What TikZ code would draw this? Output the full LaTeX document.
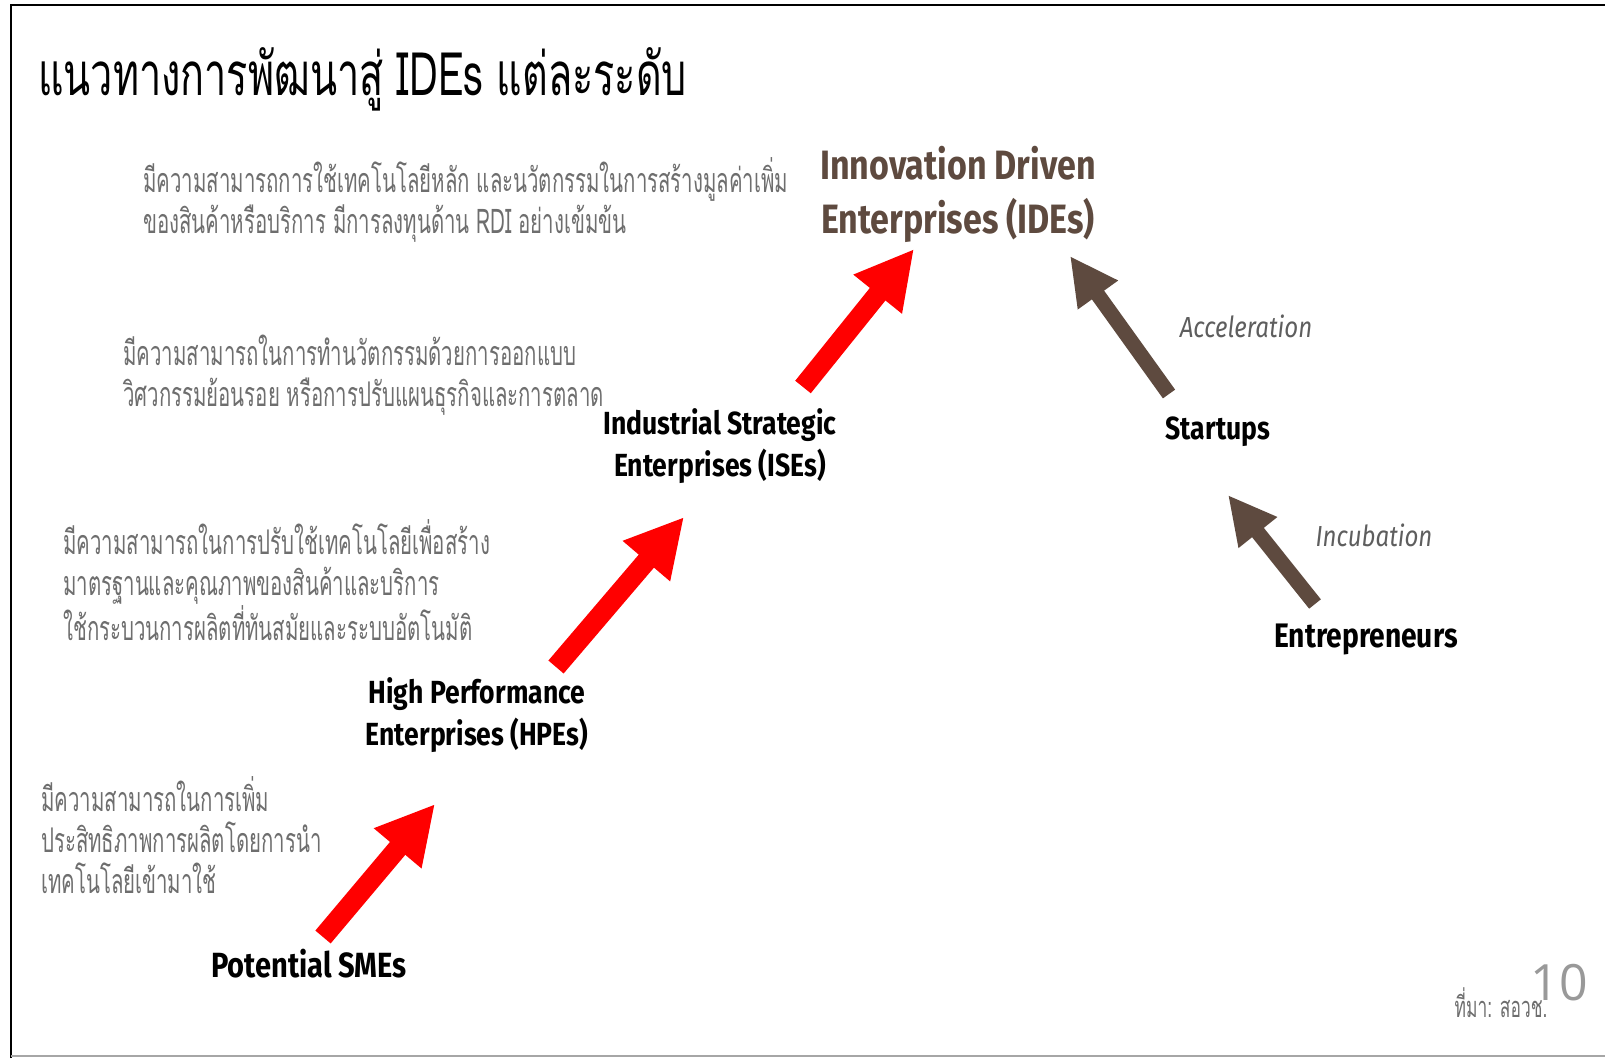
\documentclass[tikz,border=0pt]{standalone}
\usepackage{fontspec}
\usetikzlibrary{arrows.meta}
\newfontfamily\titlefont[Script=Thai,FakeStretch=0.66]{Loma}
\newfontfamily\descfont[Script=Thai,FakeStretch=0.6]{Loma}
\newfontfamily\labfont[FakeStretch=0.83]{Fira Sans}
\newfontfamily\numfont{Open Sans}
\definecolor{ideBrown}{HTML}{5E4A3F}
\definecolor{descGray}{HTML}{6E6E6E}
\definecolor{stepRed}{HTML}{FF0000}
\tikzset{
  level/.style={font=\labfont\bfseries\fontsize{32}{42}\selectfont, align=center, inner sep=0pt},
  desc/.style={font=\descfont\fontsize{34}{41}\selectfont, text=descGray, align=left, inner sep=0pt, anchor=base west},
  how/.style={font=\labfont\itshape\fontsize{29}{34}\selectfont, text=descGray!85!black, inner sep=0pt},
  redup/.style={draw=stepRed, line width=20pt, -{Triangle[length=58pt,width=58pt]}},
  brownup/.style={draw=ideBrown, line width=15pt, -{Triangle[length=48pt,width=46pt]}}
}
\begin{document}
\begin{tikzpicture}[x=1pt,y=-1pt]
  \useasboundingbox (0,0) rectangle (1605,1058);
  \fill[white] (0,0) rectangle (1605,1058);
  % frame
  \draw[line width=2.5pt] (11,1058) -- (11,5) -- (1605,5);
  \draw[line width=2pt, gray!70] (11,1056) -- (1605,1056);

  \node[anchor=base west, inner sep=0pt, font=\titlefont\fontsize{60}{66}\selectfont] (title) at (38,95)
    {แนวทางการพัฒนาสู่ IDEs แต่ละระดับ};

  % levels
  \node[level, text=ideBrown, font=\labfont\bfseries\fontsize{41}{54}\selectfont] (ide) at (958,194)
    {Innovation Driven\\Enterprises (IDEs)};
  \node[level] (ise) at (720,446) {Industrial Strategic\\Enterprises (ISEs)};
  \node[level] (hpe) at (477,715) {High Performance\\Enterprises (HPEs)};
  \node[level, font=\labfont\bfseries\fontsize{35}{42}\selectfont] (sme) at (309,964) {Potential SMEs};
  \node[level] (startup) at (1218,432) {Startups};
  \node[level, font=\labfont\bfseries\fontsize{34}{42}\selectfont] (entre) at (1366,639) {Entrepreneurs};

  % descriptions (placed at the last line's baseline)
  \node[desc] (descIde) at (143,233)
    {มีความสามารถการใช้เทคโนโลยีหลัก และนวัตกรรมในการสร้างมูลค่าเพิ่ม\\ของสินค้าหรือบริการ มีการลงทุนด้าน RDI อย่างเข้มข้น};
  \node[desc] (descIse) at (123,406)
    {มีความสามารถในการทำนวัตกรรมด้วยการออกแบบ\\วิศวกรรมย้อนรอย หรือการปรับแผนธุรกิจและการตลาด};
  \node[desc] (descHpe) at (63,640)
    {มีความสามารถในการปรับใช้เทคโนโลยีเพื่อสร้าง\\มาตรฐานและคุณภาพของสินค้าและบริการ\\ใช้กระบวนการผลิตที่ทันสมัยและระบบอัตโนมัติ};
  \node[desc] (descSme) at (41,893)
    {มีความสามารถในการเพิ่ม\\ประสิทธิภาพการผลิตโดยการนำ\\เทคโนโลยีเข้ามาใช้};

  \node[how] (accel) at (1246,326) {Acceleration};
  \node[how] (incub) at (1374,535) {Incubation};

  \node[font=\descfont\fontsize{29}{32}\selectfont, text=descGray, inner sep=0pt] (src) at (1501,1003) {ที่มา: สอวช.};
  \node[font=\numfont\fontsize{50}{56}\selectfont, text=gray!80, inner sep=0pt] (pgno) at (1559,983) {10};

  % arrow ends
  \coordinate (smeTail) at (323,937);
  \coordinate (hpeTip) at (435,804);
  \coordinate (hpeTail) at (556,667);
  \coordinate (iseTip) at (684,517);
  \coordinate (iseTail) at (803,387);
  \coordinate (ideTipL) at (914,249);
  \coordinate (startTail) at (1169,394);
  \coordinate (ideTipR) at (1070,256);
  \coordinate (entreTail) at (1315,604);
  \coordinate (startTip) at (1228,495);

  \draw[redup] (smeTail) -- (hpeTip);
  \draw[redup] (hpeTail) -- (iseTip);
  \draw[redup] (iseTail) -- (ideTipL);
  \draw[brownup] (startTail) -- (ideTipR);
  \draw[brownup] (entreTail) -- (startTip);
\end{tikzpicture}
\end{document}
